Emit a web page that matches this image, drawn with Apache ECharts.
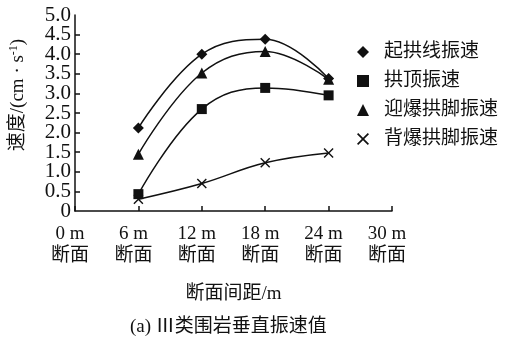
<!DOCTYPE html>
<html>
<head>
<meta charset="utf-8">
<script src="https://cdn.jsdelivr.net/npm/echarts@6/dist/echarts.min.js"></script>
<style>
  html, body { margin: 0; padding: 0; background: #fff; }
  #chart { width: 515px; height: 343px; }
</style>
</head>
<body>
<div id="chart"></div>
<script>
// Section positions along the tunnel (m) and vertical vibration velocities (cm/s)
const sections = [6, 12, 18, 24];
const xTicks = [0, 6, 12, 18, 24, 30];
const springLine = [2.12, 4.0, 4.38, 3.38];   // 起拱线振速
const crown = [0.43, 2.6, 3.14, 2.95];        // 拱顶振速
const facingFoot = [1.45, 3.52, 4.07, 3.36];  // 迎爆拱脚振速
const backFoot = [0.3, 0.7, 1.23, 1.48];      // 背爆拱脚振速
const seriesNames = ['起拱线振速', '拱顶振速', '迎爆拱脚振速', '背爆拱脚振速'];

const FONT = '"Liberation Serif", "Noto Sans CJK SC", serif';
const CROSS = 'path://M0,1L1,0L5,4L9,0L10,1L6,5L10,9L9,10L5,6L1,10L0,9L4,5Z';
const symbols = ['diamond', 'rect', 'triangle', CROSS];
const sizes = [11, 10, 11, 10];
const values = [springLine, crown, facingFoot, backFoot];

const yLabel = v => (v === 0 ? '0' : v.toFixed(1));
const yLabelStyle = { margin: 4, fontFamily: FONT, fontSize: 21, color: '#111' };

const chart = echarts.init(document.getElementById('chart'));
chart.setOption({
  animation: false,
  backgroundColor: '#fff',
  textStyle: { fontFamily: FONT, color: '#111' },
  grid: { left: 67, right: 123, top: 15, bottom: 132 },
  legend: {
    orient: 'vertical',
    left: 352,
    top: 37,
    itemWidth: 12,
    itemHeight: 12,
    itemGap: 9,
    data: seriesNames.map((n, i) => ({ name: n, icon: symbols[i] })),
    textStyle: { fontFamily: FONT, fontSize: 19, color: '#111', padding: [0, 0, 0, 10], lineHeight: 20 }
  },
  xAxis: {
    type: 'value',
    min: 0, max: 30, interval: 6,
    axisLine: { lineStyle: { color: '#111', width: 1.5 } },
    axisTick: { inside: true, length: 5, lineStyle: { color: '#111', width: 1.5 } },
    splitLine: { show: false },
    axisLabel: {
      margin: 12,
      showMinLabel: true, showMaxLabel: true,
      fontFamily: FONT, fontSize: 19, color: '#111', lineHeight: 22,
      padding: [0, 10, 0, 0],
      formatter: v => xTicks.includes(v) ? v + ' m\n断面' : ''
    },
    name: '断面间距/m',
    nameLocation: 'middle',
    nameGap: 74,
    nameTextStyle: { fontFamily: FONT, fontSize: 19, color: '#111' }
  },
  yAxis: [{
    // main velocity axis: line, ticks, inner labels and title
    type: 'value',
    min: 0, max: 5, interval: 0.5,
    axisLine: { show: true, lineStyle: { color: '#111', width: 1.5 } },
    axisTick: { show: true, inside: true, length: 5, lineStyle: { color: '#111', width: 1.5 } },
    splitLine: { show: false },
    axisLabel: Object.assign({ showMinLabel: false, showMaxLabel: false, formatter: yLabel }, yLabelStyle),
    name: '{a|速度/(cm · s}{sup|-1}{a|)}',
    nameLocation: 'middle',
    nameGap: 47,
    nameRotate: 90,
    nameTextStyle: {
      padding: [0, 0, 0, 36],
      rich: {
        a: { fontFamily: FONT, fontSize: 19, color: '#111' },
        sup: { fontFamily: FONT, fontSize: 12, color: '#111', verticalAlign: 'top', padding: [0, 0, 8, 0] }
      }
    }
  }, {
    // same scale, only carries the end labels 0 and 5.0
    type: 'value',
    position: 'left',
    min: 0, max: 5, interval: 0.5,
    axisLine: { show: false },
    axisTick: { show: false },
    splitLine: { show: false },
    axisLabel: Object.assign({
      showMinLabel: true, showMaxLabel: true,
      formatter: v => (v === 0 || v === 5 ? yLabel(v) : '')
    }, yLabelStyle)
  }],
  graphic: [{
    type: 'text',
    left: 130,
    top: 318,
    style: {
      text: '(a) Ⅲ类围岩垂直振速值',
      fontFamily: FONT, fontSize: 19, fill: '#111'
    }
  }],
  series: values.map((vals, i) => ({
    name: seriesNames[i],
    type: 'line',
    yAxisIndex: 0,
    smooth: 0.4,
    data: sections.map((s, k) => [s, vals[k]]),
    symbol: symbols[i],
    symbolSize: sizes[i],
    showSymbol: true,
    lineStyle: { color: '#111', width: 1.5 },
    itemStyle: { color: '#111', borderWidth: 0 }
  }))
});
</script>
</body>
</html>
